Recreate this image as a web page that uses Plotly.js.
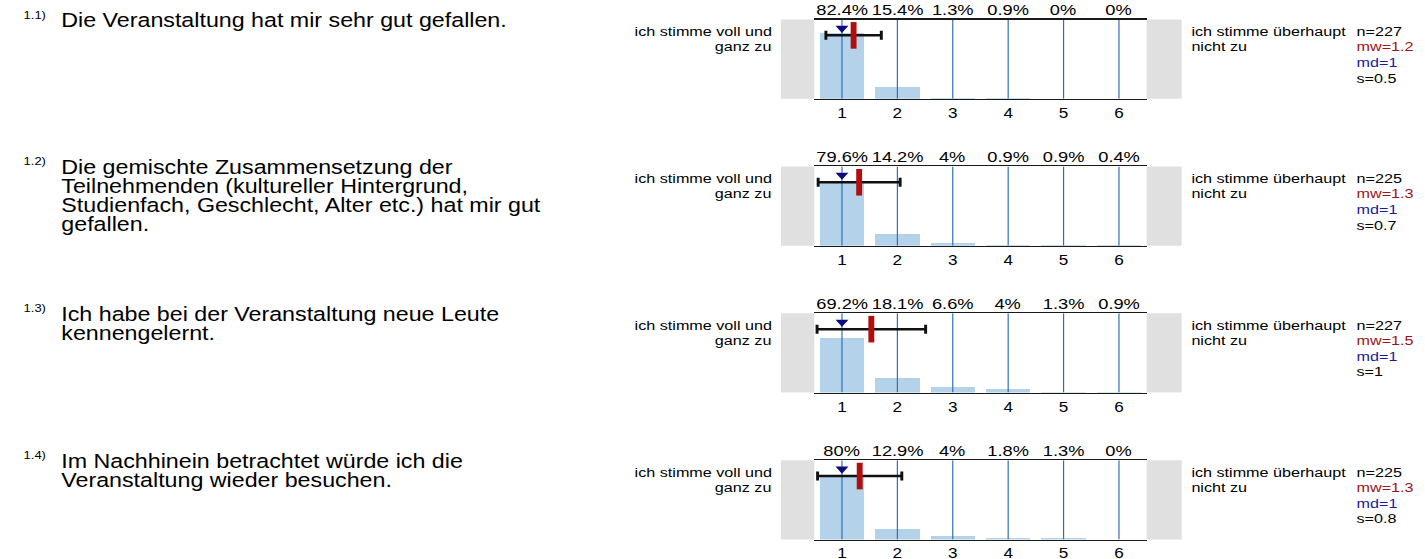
<!DOCTYPE html>
<html><head><meta charset="utf-8">
<script src="https://cdn.plot.ly/plotly-3.0.1.min.js"></script>
<style>
html,body{margin:0;padding:0;background:#fff;overflow:hidden}
#wrap{width:1425px;height:559px;overflow:hidden;position:relative}
#chart{width:1208px;height:559px;transform:scaleX(1.1796);transform-origin:0 0}
</style></head>
<body><div id="wrap"><div id="chart"></div></div>
<script>
// ---------------- data ----------------
const categories = [1, 2, 3, 4, 5, 6];
const tickLabels = ['1', '2', '3', '4', '5', '6'];
const percentQ1 = [82.4, 15.4, 1.3, 0.9, 0, 0];
const percentQ2 = [79.6, 14.2, 4, 0.9, 0.9, 0.4];
const percentQ3 = [69.2, 18.1, 6.6, 4, 1.3, 0.9];
const percentQ4 = [80, 12.9, 4, 1.8, 1.3, 0];
const nValues = [227, 225, 227, 225];
const meanValues = [1.21, 1.31, 1.53, 1.32];
const medianValues = [1, 1, 1, 1];
const sdValues = [0.5, 0.74, 0.98, 0.76];
const questionIds = ['1.1)', '1.2)', '1.3)', '1.4)'];
const questionQ1 = ['Die Veranstaltung hat mir sehr gut gefallen.'];
const questionQ2 = ['Die gemischte Zusammensetzung der', 'Teilnehmenden (kultureller Hintergrund,', 'Studienfach, Geschlecht, Alter etc.) hat mir gut', 'gefallen.'];
const questionQ3 = ['Ich habe bei der Veranstaltung neue Leute', 'kennengelernt.'];
const questionQ4 = ['Im Nachhinein betrachtet würde ich die', 'Veranstaltung wieder besuchen.'];
const leftPole = ['ich stimme voll und', 'ganz zu'];
const rightPole = ['ich stimme überhaupt', 'nicht zu'];

// ---------------- layout helpers ----------------
const percents = [percentQ1, percentQ2, percentQ3, percentQ4];
const questions = [questionQ1, questionQ2, questionQ3, questionQ4];
const FIG_W = 1425, FIG_H = 559;          // reference pixels (paper fractions are stretch-invariant)
const FONT = 'Arial, "Liberation Sans", Helvetica, sans-serif';
const panelTop0 = 19.5, panelStep = 146.9, panelH = 79.3;
const plotX0 = 814.3, plotX1 = 1146.7, grayL0 = 781, grayR1 = 1181.7;
const px = X => X / FIG_W;
const py = Y => 1 - Y / FIG_H;
const fmt1 = v => String(Math.round(v * 10) / 10);

const traces = [];
const layout = {
  width: 1208, height: 559,
  margin: {l: 0, r: 0, t: 0, b: 0},
  paper_bgcolor: '#fff', plot_bgcolor: 'rgba(0,0,0,0)',
  showlegend: false, bargap: 0,
  font: {family: FONT, color: '#000'},
  shapes: [], annotations: []
};

percents.forEach((pct, i) => {
  const s = i === 0 ? '' : String(i + 1);
  const T = panelTop0 + i * panelStep, B = T + panelH;
  layout['xaxis' + s] = {
    domain: [px(plotX0), px(plotX1)], anchor: 'y' + s, range: [0.5, 6.5],
    tickmode: 'array', tickvals: categories, ticktext: tickLabels,
    showgrid: false, zeroline: false, showline: true, mirror: true,
    linecolor: '#1a1a1a', linewidth: 1.6, ticks: '', ticklabelstandoff: 0,
    tickfont: {family: FONT, size: 14.5, color: '#000'}, fixedrange: true
  };
  layout['yaxis' + s] = {
    domain: [py(B), py(T)], anchor: 'x' + s, range: [0, 100],
    visible: false, showgrid: false, zeroline: false, fixedrange: true
  };
  // grey side boxes
  layout.shapes.push({type: 'rect', xref: 'paper', yref: 'y' + s + ' domain', x0: px(grayL0), x1: px(plotX0), y0: 0, y1: 1, fillcolor: '#e0e0e0', line: {width: 0}, layer: 'below'});
  layout.shapes.push({type: 'rect', xref: 'paper', yref: 'y' + s + ' domain', x0: px(plotX1), x1: px(grayR1), y0: 0, y1: 1, fillcolor: '#e0e0e0', line: {width: 0}, layer: 'below'});

  // bars
  traces.push({type: 'bar', x: categories, y: pct, width: 0.8, xaxis: 'x' + s, yaxis: 'y' + s,
    marker: {color: '#b4d3ea', line: {width: 0}}, hoverinfo: 'skip'});
  // blue category lines above bars
  const gx = [], gy = [];
  categories.forEach(c => { gx.push(c, c, null); gy.push(0, 100, null); });
  traces.push({type: 'scatter', mode: 'lines', x: gx, y: gy, xaxis: 'x' + s, yaxis: 'y' + s,
    line: {color: '#2f6cb9', width: 1}, hoverinfo: 'skip', cliponaxis: true});
  // standard deviation bar
  traces.push({type: 'scatter', mode: 'markers', x: [meanValues[i]], y: [80], xaxis: 'x' + s, yaxis: 'y' + s,
    marker: {size: 1, color: 'rgba(0,0,0,0)'},
    error_x: {type: 'data', array: [sdValues[i]], color: '#111', thickness: 2.5, width: 4.5},
    hoverinfo: 'skip', cliponaxis: false});
  // mean marker
  traces.push({type: 'scatter', mode: 'markers', x: [meanValues[i]], y: [80], xaxis: 'x' + s, yaxis: 'y' + s,
    marker: {symbol: 'line-ns', size: 19, line: {width: 5, color: '#b10f0f'}, color: '#b10f0f'},
    hoverinfo: 'skip', cliponaxis: false});
  // median marker
  traces.push({type: 'scatter', mode: 'markers', x: [medianValues[i]], y: [89], xaxis: 'x' + s, yaxis: 'y' + s,
    marker: {symbol: 'triangle-down', size: 9.5, color: '#0c0c80', line: {width: 0}},
    hoverinfo: 'skip', cliponaxis: false});

  // percent labels above
  categories.forEach((c, k) => {
    layout.annotations.push({xref: 'x' + s, yref: 'y' + s + ' domain', x: c, y: 1, yanchor: 'bottom', yshift: -1,
      text: String(pct[k]) + '%', showarrow: false, font: {family: FONT, size: 15.5, color: '#000'}});
  });

  const ann = (text, X, Y, xanchor, size, color) => layout.annotations.push({
    xref: 'paper', yref: 'paper', x: px(X), y: py(Y), xanchor: xanchor, yanchor: 'middle',
    text: text, showarrow: false, font: {family: FONT, size: size, color: color || '#000'}});

  // scale pole labels
  leftPole.forEach((t, k) => ann(t, 774, T + 12 + k * 15, 'right', 13.7));
  rightPole.forEach((t, k) => ann(t, 1188.5, T + 12 + k * 15, 'left', 13.7));
  // statistics
  const stats = [['n=' + nValues[i], '#000'], ['mw=' + fmt1(meanValues[i]), '#9e1414'],
                 ['md=' + medianValues[i], '#1a1a9c'], ['s=' + fmt1(sdValues[i]), '#000']];
  stats.forEach((st, k) => ann(st[0], 1354, T + 11.8 + k * 15.6, 'left', 13.7, st[1]));

  // question text
  ann(questionIds[i], 21, T - 5, 'left', 11);
  questions[i].forEach((line, k) => ann(line, 59, T + 1 + k * 19, 'left', 19.7));
});

Plotly.newPlot('chart', traces, layout, {staticPlot: true, displayModeBar: false});
</script>
</body></html>
